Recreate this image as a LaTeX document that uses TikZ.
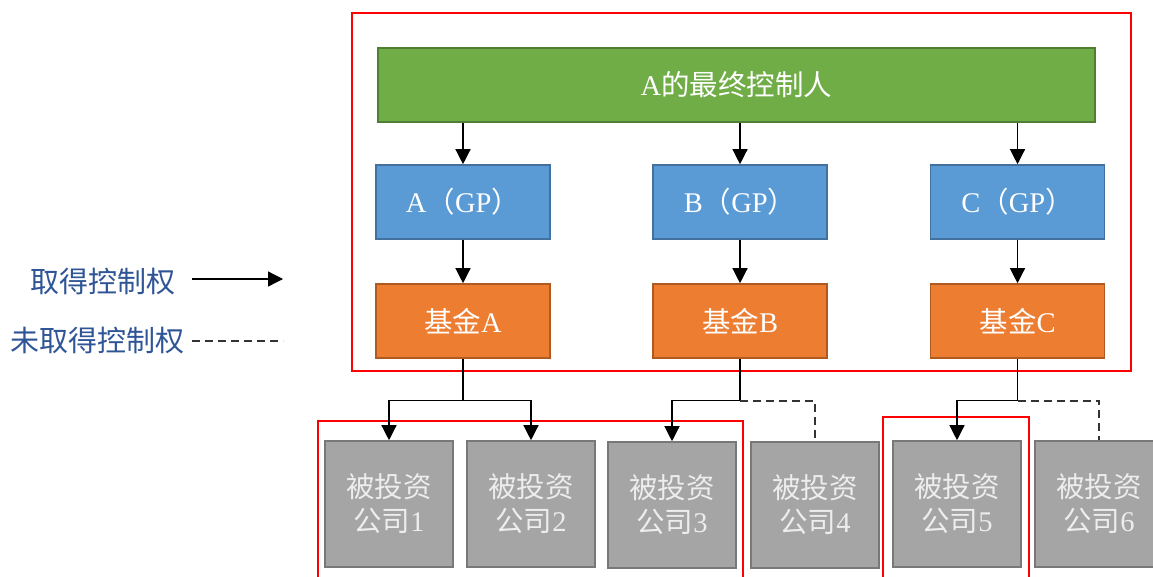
\documentclass[tikz,border=0pt]{standalone}
\usepackage{fontspec}
\setmainfont{Liberation Serif}
\newfontfamily\cjk{Noto Sans CJK SC}
\usetikzlibrary{arrows.meta,calc}
\definecolor{gfill}{HTML}{70AD47}
\definecolor{gline}{HTML}{507E32}
\definecolor{bfill}{HTML}{5B9BD5}
\definecolor{bline}{HTML}{41719C}
\definecolor{ofill}{HTML}{ED7D31}
\definecolor{oline}{HTML}{AE5A21}
\definecolor{yfill}{HTML}{A5A5A5}
\definecolor{yline}{HTML}{787878}
\definecolor{legblue}{HTML}{2F5597}
\definecolor{dashgray}{HTML}{333333}
\newcommand{\zh}[1]{{\cjk #1}}
\tikzset{
  boxbase/.style={draw, line width=1.6pt, inner sep=0pt, text=white,
    font=\fontsize{28.5}{34}\selectfont, align=center},
  greenbox/.style={boxbase, fill=gfill, draw=gline, minimum width=717pt, minimum height=74pt},
  bluebox/.style={boxbase, fill=bfill, draw=bline, minimum width=174pt, minimum height=74pt},
  orangebox/.style={boxbase, fill=ofill, draw=oline, minimum width=174pt, minimum height=74pt},
  graybox/.style={boxbase, fill=yfill, draw=yline, minimum width=128pt, minimum height=126pt, text=white!93!black},
  redframe/.style={draw=red, line width=2pt},
  arr/.style={draw=black, line width=1.3pt, -{Triangle[width=15pt,length=15pt]}},
  solidline/.style={draw=black, line width=1.3pt},
  dashline/.style={draw=dashgray, line width=1.4pt, dash pattern=on 8pt off 5pt},
  legtext/.style={text=legblue, font=\fontsize{29}{34}\selectfont, inner sep=0pt}
}
\begin{document}
\begin{tikzpicture}[x=1pt,y=-1pt]
\useasboundingbox (0,0) rectangle (1153,576);
\clip (0,0) rectangle (1153,576);
\fill[white] (0,0) rectangle (1153,576);

% red frames
\draw[redframe] (352,13) rectangle (1131,371);
\draw[redframe] (318,421) rectangle (743,600);
\draw[redframe] (883,417) rectangle (1029,600);

% top
\node[greenbox] (top) at (736.5,85) {A\zh{的最终控制人}};
\node[bluebox] (gpA) at (463,202) {A\zh{（}GP\zh{）}};
\node[bluebox] (gpB) at (740,202) {B\zh{（}GP\zh{）}};
\node[bluebox] (gpC) at (1017.5,202) {C\zh{（}GP\zh{）}};
\node[orangebox] (fA) at (463,321) {\zh{基金}A};
\node[orangebox] (fB) at (740,321) {\zh{基金}B};
\node[orangebox] (fC) at (1017.5,321) {\zh{基金}C};

% investees
\node[graybox] (i1) at (389,504) {\zh{被投资}\\\zh{公司}1};
\node[graybox] (i2) at (531,504) {\zh{被投资}\\\zh{公司}2};
\node[graybox] (i3) at (672,505) {\zh{被投资}\\\zh{公司}3};
\node[graybox] (i4) at (815,505) {\zh{被投资}\\\zh{公司}4};
\node[graybox] (i5) at (957,504) {\zh{被投资}\\\zh{公司}5};
\node[graybox] (i6) at (1099,504) {\zh{被投资}\\\zh{公司}6};

% top arrows
\draw[arr] (top.south -| gpA) -- (gpA.north);
\draw[arr] (top.south -| gpB) -- (gpB.north);
\draw[arr] (top.south -| gpC) -- (gpC.north);
\draw[arr] (gpA.south) -- (fA.north);
\draw[arr] (gpB.south) -- (fB.north);
\draw[arr] (gpC.south) -- (fC.north);

% fund to investees
\coordinate (jA) at ($(fA.south)+(0,42)$);
\coordinate (jB) at ($(fB.south)+(0,42)$);
\coordinate (jC) at ($(fC.south)+(0,42)$);
\draw[solidline] (fA.south) -- (jA);
\draw[arr] (jA) -| (i1.north);
\draw[arr] (jA) -| (i2.north);
\draw[solidline] (fB.south) -- (jB);
\draw[arr] (jB) -| (i3.north);
\draw[dashline] (jB) -| (i4.north);
\draw[solidline] (fC.south) -- (jC);
\draw[arr] (jC) -| (i5.north);
\draw[dashline] (jC) -| (i6.north);

% legend
\node[legtext] (leg1) at (103,282) {\zh{取得控制权}};
\node[legtext] (leg2) at (97,341) {\zh{未取得控制权}};
\coordinate (l1a) at (192,279);
\coordinate (l1b) at (283,279);
\coordinate (l2a) at (192,341);
\coordinate (l2b) at (283,341);
\draw[arr] (l1a) -- (l1b);
\draw[dashline] (l2a) -- (l2b);
\end{tikzpicture}
\end{document}
